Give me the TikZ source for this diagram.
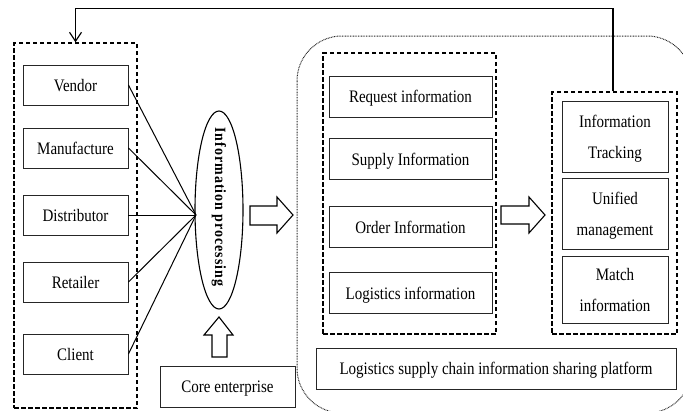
\documentclass[tikz,border=0pt]{standalone}
\usepackage{fontspec}
\setmainfont{Liberation Serif}
\usetikzlibrary{shapes.geometric,arrows.meta}
\newcommand{\boxtxt}[1]{\raisebox{-2.5pt}[\height][\depth]{\scalebox{1}[1.17]{\begin{tabular}{@{}c@{}}#1\end{tabular}}}}
\begin{document}
\begin{tikzpicture}[x=1pt,y=-1pt,
  box/.style={draw=black!85,line width=0.9pt,inner sep=0pt,align=center,
    font=\fontsize{15}{17}\selectfont},
  group/.style={draw=black,line width=1.3pt,dash pattern=on 4.5pt off 2.5pt,inner sep=0pt},
  link/.style={line width=1pt,black},
  blockarrow/.style={draw=black,line width=1.1pt,fill=white},
  fb/.style={line width=1.2pt,-{Straight Barb[length=9pt,width=12pt,line width=1.2pt]}}]
\useasboundingbox (0,0) rectangle (683,410);
% outer dotted platform area
\begin{scope}
\clip (0,0) rectangle (683,410);
\draw[line width=1pt,black!85,dash pattern=on 0.8pt off 0.8pt,rounded corners=45pt]
  (297,36) rectangle (692,413);
\end{scope}
% left group
\node[group,minimum width=123pt,minimum height=365pt] (lbox) at (75.5,225.5) {};
\node[box,minimum width=105pt,minimum height=40pt] (vendor) at (75.5,85) {\boxtxt{Vendor}};
\node[box,minimum width=105pt,minimum height=40pt] (manu) at (75.5,148) {\boxtxt{Manufacture}};
\node[box,minimum width=105pt,minimum height=40pt] (dist) at (75.5,215) {\boxtxt{Distributor}};
\node[box,minimum width=105pt,minimum height=40pt] (ret) at (75.5,282) {\boxtxt{Retailer}};
\node[box,minimum width=105pt,minimum height=40pt] (client) at (75.5,354) {\boxtxt{Client}};
% ellipse
\node[ellipse,draw,line width=1.1pt,minimum width=48pt,minimum height=198pt,inner sep=0pt] (ip) at (219,210) {};
\node[rotate=-90,font=\fontsize{14}{16}\selectfont\bfseries\addfontfeature{LetterSpace=7}] (iptext) at ([yshift=3pt]ip.center) {\scalebox{1}[1.12]{Information processing}};
\coordinate (conv) at (196,215);
\foreach \n in {vendor,manu,dist,ret,client} \draw[link] (\n.east) -- (conv);
% core enterprise
\node[box,minimum width=135pt,minimum height=41pt] (core) at (227.5,386.5) {\boxtxt{Core enterprise}};
\draw[blockarrow] (219,317) -- (233,335) -- (227,335) -- (227,357) -- (212,357) -- (212,335) -- (204,335) -- cycle;
% arrow to platform
\draw[blockarrow] (250,206) -- (277,206) -- (277,197) -- (293,215) -- (277,233) -- (277,225) -- (250,225) -- cycle;
% middle group
\node[group,minimum width=173pt,minimum height=281pt] (mbox) at (409.5,193.5) {};
\node[box,minimum width=163pt,minimum height=41pt] (req) at (410.5,96.5) {\boxtxt{Request information}};
\node[box,minimum width=163pt,minimum height=41pt] (sup) at (410.5,159) {\boxtxt{Supply Information}};
\node[box,minimum width=163pt,minimum height=41pt] (ord) at (410.5,227) {\boxtxt{Order Information}};
\node[box,minimum width=163pt,minimum height=41pt] (log) at (410.5,293) {\boxtxt{Logistics information}};
% arrow to right group
\draw[blockarrow] (501,206) -- (529,206) -- (529,197) -- (545,215) -- (529,233) -- (529,224) -- (501,224) -- cycle;
% right group
\node[group,minimum width=125pt,minimum height=242pt] (rbox) at (614.5,213) {};
\node[box,minimum width=106pt,minimum height=71pt] (track) at (615,136.5) {\boxtxt{Information\\[9pt]Tracking}};
\node[box,minimum width=106pt,minimum height=71pt] (unif) at (615,213.5) {\boxtxt{Unified\\[9pt]management}};
\node[box,minimum width=106pt,minimum height=67pt] (match) at (615,289.5) {\boxtxt{Match\\[9pt]information}};
% platform
\node[box,minimum width=360pt,minimum height=41pt] (plat) at (496,368.5) {\boxtxt{Logistics supply chain information sharing platform}};
% feedback
\draw[fb] ([xshift=-1.5pt]rbox.north) -- ++(0,-83) -| (lbox.north);
\end{tikzpicture}
\end{document}
